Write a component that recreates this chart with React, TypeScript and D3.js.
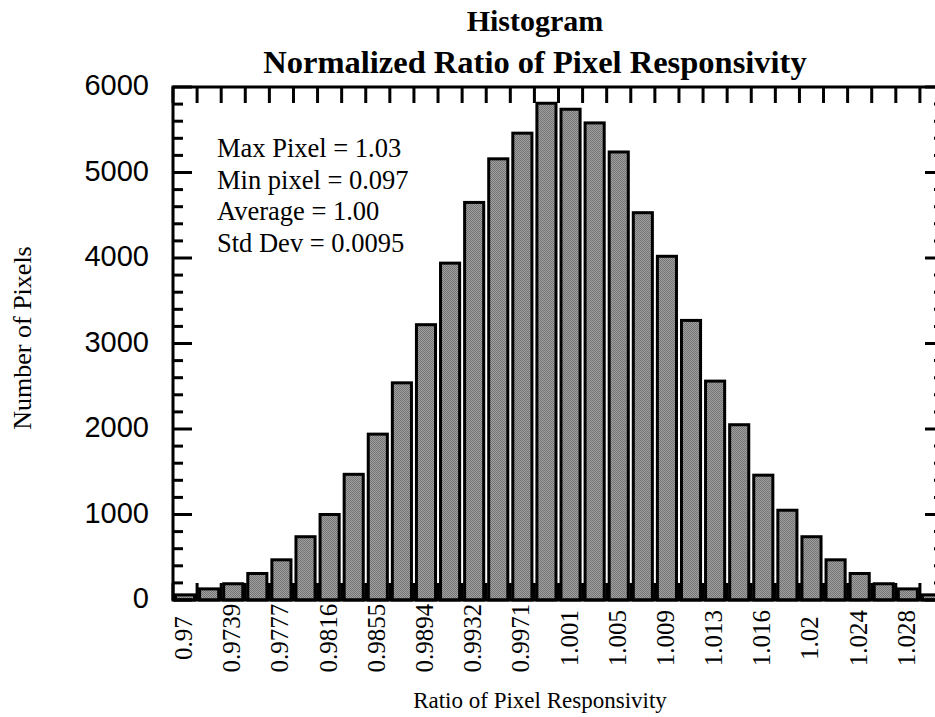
import React from "react";
import * as d3 from "d3";

const counts = [60, 130, 190, 310, 470, 740, 1000, 1470, 1940, 2540, 3220, 3940, 4650, 5160, 5460, 5810, 5740, 5580, 5240, 4530, 4020, 3270, 2560, 2050, 1460, 1050, 740, 470, 310, 190, 130, 60];
const xTickLabels = ["0.97", "0.9739", "0.9777", "0.9816", "0.9855", "0.9894", "0.9932", "0.9971", "1.001", "1.005", "1.009", "1.013", "1.016", "1.02", "1.024", "1.028"];
const yTicks = [0, 1000, 2000, 3000, 4000, 5000, 6000];
const statsLines = ["Max Pixel = 1.03", "Min pixel = 0.097", "Average = 1.00", "Std Dev = 0.0095"];
const titleLines = ["Histogram", "Normalized Ratio of Pixel Responsivity"];
const xTitle = "Ratio of Pixel Responsivity";
const yTitle = "Number of Pixels";

const W = 935, H = 717;
const L = 173, R = 944, T = 87, B = 600;
const serif = "'Liberation Serif', 'Times New Roman', serif";
const sans = "'Liberation Sans', Arial, sans-serif";

export default function App() {
  const x = d3.scaleBand<number>().domain(d3.range(counts.length)).range([L, R]).padding(0);
  const y = d3.scaleLinear().domain([0, 6000]).range([B, T]);
  const bw = x.bandwidth();
  const boundaries = d3.range(counts.length + 1).map((i) => L + i * bw);
  const minor = d3.range(0, 6001, 200);

  return (
    <svg width={W} height={H} style={{ position: "fixed", left: 0, top: 0, background: "#fff" }}>
      <defs>
        <pattern id="dither" width="2" height="2" patternUnits="userSpaceOnUse">
          <rect width="2" height="2" fill="#a0a0a0" />
          <rect width="1" height="1" fill="#747474" />
          <rect x="1" y="1" width="1" height="1" fill="#747474" />
        </pattern>
      </defs>
      <rect width={W} height={H} fill="#fff" />
      {/* bars */}
      {counts.map((c, i) => (
        <rect key={i} x={(x(i) as number) + 2.5} y={y(c)} width={bw - 5} height={B - y(c)}
          fill="url(#dither)" stroke="#000" strokeWidth={3} />
      ))}
      {/* top & bottom ticks at bin boundaries */}
      {boundaries.map((bx, i) => (
        <g key={"bt" + i}>
          <line x1={bx} x2={bx} y1={B} y2={B - 17} stroke="#000" strokeWidth={3} />
          <line x1={bx} x2={bx} y1={T} y2={T + 16} stroke="#000" strokeWidth={3} />
        </g>
      ))}
      {/* left & right ticks */}
      {minor.map((v) => {
        const len = v % 1000 === 0 ? 19 : 10;
        return (
          <g key={"yt" + v}>
            <line x1={L} x2={L + len} y1={y(v)} y2={y(v)} stroke="#000" strokeWidth={3} />
            <line x1={R} x2={R - len} y1={y(v)} y2={y(v)} stroke="#000" strokeWidth={3} />
          </g>
        );
      })}
      {/* frame */}
      <rect x={L} y={T} width={R - L} height={B - T} fill="none" stroke="#000" strokeWidth={3} />
      {/* y tick labels */}
      {yTicks.map((v) => (
        <text key={"yl" + v} x={149} y={y(v) + 8} textAnchor="end" fontFamily={sans} fontSize={29} fill="#000">{v}</text>
      ))}
      {/* x tick labels */}
      {xTickLabels.map((lab, k) => {
        const cx = (x(k * 2) as number) + bw / 2;
        return (
          <text key={"xl" + k} transform={`translate(${cx + 7},638) rotate(-90)`} textAnchor="middle"
            fontFamily={serif} fontSize={25} fill="#000">{lab}</text>
        );
      })}
      {/* stats */}
      {statsLines.map((s, i) => (
        <text key={"s" + i} x={217} y={157 + i * 31.5} fontFamily={serif} fontSize={26.5} fill="#000">{s}</text>
      ))}
      {/* titles */}
      <text x={535} y={31} textAnchor="middle" fontFamily={serif} fontWeight="bold" fontSize={30} fill="#000">{titleLines[0]}</text>
      <text x={535} y={73} textAnchor="middle" fontFamily={serif} fontWeight="bold" fontSize={32.5} fill="#000">{titleLines[1]}</text>
      <text x={540} y={708} textAnchor="middle" fontFamily={serif} fontSize={23} fill="#000">{xTitle}</text>
      <text transform={`translate(31,338) rotate(-90)`} textAnchor="middle" fontFamily={serif} fontSize={26} fill="#000">{yTitle}</text>
    </svg>
  );
}
